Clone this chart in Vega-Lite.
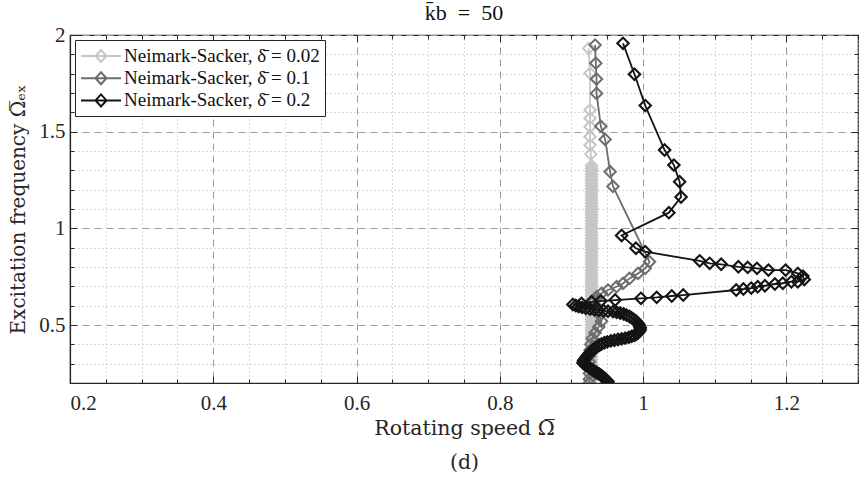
{
  "$schema": "https://vega.github.io/schema/vega-lite/v6.json",
  "width": 788,
  "height": 348,
  "autosize": {"type": "none"},
  "padding": {"left": 70, "top": 35, "right": 2, "bottom": 94},
  "background": "white",
  "title": {"text": "k\u0304b\u2002=\u200250", "fontSize": 22, "font": "Liberation Serif", "fontWeight": "normal", "color": "#111111", "offset": -1, "anchor": "middle"},
  "layer": [
    {
      "data": {"values": [
        {"s":"0.02","o":1,"x":0.928,"y":0.200},{"s":"0.02","o":2,"x":0.928,"y":0.215},{"s":"0.02","o":3,"x":0.928,"y":0.230},{"s":"0.02","o":4,"x":0.928,"y":0.245},{"s":"0.02","o":5,"x":0.928,"y":0.260},{"s":"0.02","o":6,"x":0.928,"y":0.275},{"s":"0.02","o":7,"x":0.928,"y":0.290},{"s":"0.02","o":8,"x":0.928,"y":0.305},{"s":"0.02","o":9,"x":0.928,"y":0.320},{"s":"0.02","o":10,"x":0.928,"y":0.335},
        {"s":"0.02","o":11,"x":0.928,"y":0.350},{"s":"0.02","o":12,"x":0.928,"y":0.365},{"s":"0.02","o":13,"x":0.928,"y":0.380},{"s":"0.02","o":14,"x":0.928,"y":0.395},{"s":"0.02","o":15,"x":0.928,"y":0.410},{"s":"0.02","o":16,"x":0.928,"y":0.425},{"s":"0.02","o":17,"x":0.928,"y":0.440},{"s":"0.02","o":18,"x":0.928,"y":0.455},{"s":"0.02","o":19,"x":0.928,"y":0.470},{"s":"0.02","o":20,"x":0.928,"y":0.485},
        {"s":"0.02","o":21,"x":0.928,"y":0.500},{"s":"0.02","o":22,"x":0.928,"y":0.515},{"s":"0.02","o":23,"x":0.928,"y":0.530},{"s":"0.02","o":24,"x":0.928,"y":0.545},{"s":"0.02","o":25,"x":0.928,"y":0.560},{"s":"0.02","o":26,"x":0.928,"y":0.575},{"s":"0.02","o":27,"x":0.928,"y":0.590},{"s":"0.02","o":28,"x":0.928,"y":0.605},{"s":"0.02","o":29,"x":0.928,"y":0.620},{"s":"0.02","o":30,"x":0.928,"y":0.635},
        {"s":"0.02","o":31,"x":0.928,"y":0.650},{"s":"0.02","o":32,"x":0.928,"y":0.665},{"s":"0.02","o":33,"x":0.928,"y":0.680},{"s":"0.02","o":34,"x":0.928,"y":0.695},{"s":"0.02","o":35,"x":0.928,"y":0.710},{"s":"0.02","o":36,"x":0.928,"y":0.725},{"s":"0.02","o":37,"x":0.928,"y":0.740},{"s":"0.02","o":38,"x":0.928,"y":0.755},{"s":"0.02","o":39,"x":0.928,"y":0.770},{"s":"0.02","o":40,"x":0.928,"y":0.785},
        {"s":"0.02","o":41,"x":0.928,"y":0.800},{"s":"0.02","o":42,"x":0.928,"y":0.815},{"s":"0.02","o":43,"x":0.928,"y":0.830},{"s":"0.02","o":44,"x":0.928,"y":0.845},{"s":"0.02","o":45,"x":0.928,"y":0.860},{"s":"0.02","o":46,"x":0.928,"y":0.875},{"s":"0.02","o":47,"x":0.928,"y":0.890},{"s":"0.02","o":48,"x":0.928,"y":0.905},{"s":"0.02","o":49,"x":0.928,"y":0.920},{"s":"0.02","o":50,"x":0.928,"y":0.935},
        {"s":"0.02","o":51,"x":0.928,"y":0.950},{"s":"0.02","o":52,"x":0.928,"y":0.965},{"s":"0.02","o":53,"x":0.928,"y":0.980},{"s":"0.02","o":54,"x":0.928,"y":0.995},{"s":"0.02","o":55,"x":0.928,"y":1.010},{"s":"0.02","o":56,"x":0.928,"y":1.025},{"s":"0.02","o":57,"x":0.928,"y":1.040},{"s":"0.02","o":58,"x":0.928,"y":1.055},{"s":"0.02","o":59,"x":0.928,"y":1.070},{"s":"0.02","o":60,"x":0.928,"y":1.085},
        {"s":"0.02","o":61,"x":0.928,"y":1.100},{"s":"0.02","o":62,"x":0.928,"y":1.115},{"s":"0.02","o":63,"x":0.928,"y":1.130},{"s":"0.02","o":64,"x":0.928,"y":1.145},{"s":"0.02","o":65,"x":0.928,"y":1.160},{"s":"0.02","o":66,"x":0.928,"y":1.175},{"s":"0.02","o":67,"x":0.928,"y":1.190},{"s":"0.02","o":68,"x":0.928,"y":1.205},{"s":"0.02","o":69,"x":0.928,"y":1.220},{"s":"0.02","o":70,"x":0.928,"y":1.235},
        {"s":"0.02","o":71,"x":0.928,"y":1.250},{"s":"0.02","o":72,"x":0.928,"y":1.265},{"s":"0.02","o":73,"x":0.928,"y":1.280},{"s":"0.02","o":74,"x":0.928,"y":1.295},{"s":"0.02","o":75,"x":0.928,"y":1.310},{"s":"0.02","o":76,"x":0.928,"y":1.325},
        {"s":"0.02","o":77,"x":0.927,"y":1.384},{"s":"0.02","o":78,"x":0.926,"y":1.431},{"s":"0.02","o":79,"x":0.926,"y":1.474},{"s":"0.02","o":80,"x":0.926,"y":1.526},{"s":"0.02","o":81,"x":0.926,"y":1.569},{"s":"0.02","o":82,"x":0.926,"y":1.612},{"s":"0.02","o":83,"x":0.926,"y":1.802},{"s":"0.02","o":84,"x":0.924,"y":1.931},

        {"s":"0.1","o":1,"x":0.933,"y":1.948},{"s":"0.1","o":2,"x":0.934,"y":1.854},{"s":"0.1","o":3,"x":0.935,"y":1.772},{"s":"0.1","o":4,"x":0.935,"y":1.698},{"s":"0.1","o":5,"x":0.941,"y":1.528},{"s":"0.1","o":6,"x":0.947,"y":1.460},{"s":"0.1","o":7,"x":0.954,"y":1.293},{"s":"0.1","o":8,"x":0.958,"y":1.217},
        {"s":"0.1","o":9,"x":1.009,"y":0.827},{"s":"0.1","o":10,"x":1.003,"y":0.793},{"s":"0.1","o":11,"x":0.993,"y":0.767},{"s":"0.1","o":12,"x":0.981,"y":0.741},{"s":"0.1","o":13,"x":0.972,"y":0.715},{"s":"0.1","o":14,"x":0.963,"y":0.698},{"s":"0.1","o":15,"x":0.951,"y":0.681},{"s":"0.1","o":16,"x":0.942,"y":0.664},{"s":"0.1","o":17,"x":0.935,"y":0.646},
        {"s":"0.1","o":18,"x":0.932,"y":0.625},{"s":"0.1","o":19,"x":0.934,"y":0.600},{"s":"0.1","o":20,"x":0.937,"y":0.575},{"s":"0.1","o":21,"x":0.940,"y":0.550},{"s":"0.1","o":22,"x":0.942,"y":0.520},{"s":"0.1","o":23,"x":0.938,"y":0.490},{"s":"0.1","o":24,"x":0.933,"y":0.460},{"s":"0.1","o":25,"x":0.929,"y":0.430},{"s":"0.1","o":26,"x":0.927,"y":0.400},
        {"s":"0.1","o":27,"x":0.926,"y":0.370},{"s":"0.1","o":28,"x":0.925,"y":0.340},{"s":"0.1","o":29,"x":0.925,"y":0.310},{"s":"0.1","o":30,"x":0.925,"y":0.280},{"s":"0.1","o":31,"x":0.925,"y":0.250},{"s":"0.1","o":32,"x":0.925,"y":0.220},{"s":"0.1","o":33,"x":0.925,"y":0.200},

        {"s":"0.2","o":1,"x":0.972,"y":1.957},{"s":"0.2","o":2,"x":0.988,"y":1.797},{"s":"0.2","o":3,"x":1.003,"y":1.635},{"s":"0.2","o":4,"x":1.030,"y":1.405},{"s":"0.2","o":5,"x":1.043,"y":1.327},{"s":"0.2","o":6,"x":1.051,"y":1.241},{"s":"0.2","o":7,"x":1.053,"y":1.162},{"s":"0.2","o":8,"x":1.036,"y":1.081},
        {"s":"0.2","o":9,"x":0.970,"y":0.963},{"s":"0.2","o":10,"x":0.990,"y":0.897},{"s":"0.2","o":11,"x":1.003,"y":0.879},{"s":"0.2","o":12,"x":1.079,"y":0.832},{"s":"0.2","o":13,"x":1.093,"y":0.819},{"s":"0.2","o":14,"x":1.109,"y":0.814},{"s":"0.2","o":15,"x":1.133,"y":0.801},{"s":"0.2","o":16,"x":1.146,"y":0.798},{"s":"0.2","o":17,"x":1.159,"y":0.793},
        {"s":"0.2","o":18,"x":1.175,"y":0.784},{"s":"0.2","o":19,"x":1.199,"y":0.784},{"s":"0.2","o":20,"x":1.216,"y":0.767},{"s":"0.2","o":21,"x":1.223,"y":0.753},{"s":"0.2","o":22,"x":1.225,"y":0.735},{"s":"0.2","o":23,"x":1.216,"y":0.724},{"s":"0.2","o":24,"x":1.207,"y":0.724},{"s":"0.2","o":25,"x":1.195,"y":0.716},
        {"s":"0.2","o":26,"x":1.184,"y":0.712},{"s":"0.2","o":27,"x":1.170,"y":0.703},{"s":"0.2","o":28,"x":1.160,"y":0.698},{"s":"0.2","o":29,"x":1.151,"y":0.691},{"s":"0.2","o":30,"x":1.140,"y":0.686},{"s":"0.2","o":31,"x":1.130,"y":0.681},
        {"s":"0.2","o":32,"x":1.056,"y":0.655},{"s":"0.2","o":33,"x":1.040,"y":0.650},{"s":"0.2","o":34,"x":1.019,"y":0.643},{"s":"0.2","o":35,"x":0.997,"y":0.638},{"s":"0.2","o":36,"x":0.961,"y":0.629},{"s":"0.2","o":37,"x":0.941,"y":0.624},{"s":"0.2","o":38,"x":0.928,"y":0.620},{"s":"0.2","o":39,"x":0.914,"y":0.612},{"s":"0.2","o":40,"x":0.902,"y":0.606},
        {"s":"0.2","o":41,"x":0.906,"y":0.601},{"s":"0.2","o":42,"x":0.910,"y":0.596},{"s":"0.2","o":43,"x":0.915,"y":0.591},{"s":"0.2","o":44,"x":0.920,"y":0.586},{"s":"0.2","o":45,"x":0.926,"y":0.582},{"s":"0.2","o":46,"x":0.932,"y":0.579},{"s":"0.2","o":47,"x":0.938,"y":0.576},{"s":"0.2","o":48,"x":0.945,"y":0.574},{"s":"0.2","o":49,"x":0.951,"y":0.571},{"s":"0.2","o":50,"x":0.958,"y":0.569},
        {"s":"0.2","o":51,"x":0.963,"y":0.566},{"s":"0.2","o":52,"x":0.968,"y":0.562},{"s":"0.2","o":53,"x":0.973,"y":0.557},{"s":"0.2","o":54,"x":0.977,"y":0.551},{"s":"0.2","o":55,"x":0.981,"y":0.544},{"s":"0.2","o":56,"x":0.984,"y":0.537},{"s":"0.2","o":57,"x":0.987,"y":0.529},{"s":"0.2","o":58,"x":0.990,"y":0.521},{"s":"0.2","o":59,"x":0.992,"y":0.512},{"s":"0.2","o":60,"x":0.994,"y":0.504},
        {"s":"0.2","o":61,"x":0.995,"y":0.495},{"s":"0.2","o":62,"x":0.996,"y":0.486},{"s":"0.2","o":63,"x":0.996,"y":0.477},{"s":"0.2","o":64,"x":0.995,"y":0.468},{"s":"0.2","o":65,"x":0.993,"y":0.460},{"s":"0.2","o":66,"x":0.991,"y":0.453},{"s":"0.2","o":67,"x":0.988,"y":0.447},{"s":"0.2","o":68,"x":0.984,"y":0.441},{"s":"0.2","o":69,"x":0.980,"y":0.436},{"s":"0.2","o":70,"x":0.975,"y":0.432},
        {"s":"0.2","o":71,"x":0.970,"y":0.428},{"s":"0.2","o":72,"x":0.965,"y":0.425},{"s":"0.2","o":73,"x":0.960,"y":0.421},{"s":"0.2","o":74,"x":0.955,"y":0.418},{"s":"0.2","o":75,"x":0.950,"y":0.413},{"s":"0.2","o":76,"x":0.946,"y":0.408},{"s":"0.2","o":77,"x":0.942,"y":0.402},{"s":"0.2","o":78,"x":0.939,"y":0.395},{"s":"0.2","o":79,"x":0.936,"y":0.388},{"s":"0.2","o":80,"x":0.933,"y":0.380},
        {"s":"0.2","o":81,"x":0.930,"y":0.372},{"s":"0.2","o":82,"x":0.928,"y":0.363},{"s":"0.2","o":83,"x":0.925,"y":0.354},{"s":"0.2","o":84,"x":0.923,"y":0.345},{"s":"0.2","o":85,"x":0.921,"y":0.336},{"s":"0.2","o":86,"x":0.919,"y":0.326},{"s":"0.2","o":87,"x":0.917,"y":0.316},{"s":"0.2","o":88,"x":0.916,"y":0.305},{"s":"0.2","o":89,"x":0.918,"y":0.297},{"s":"0.2","o":90,"x":0.921,"y":0.290},
        {"s":"0.2","o":91,"x":0.924,"y":0.283},{"s":"0.2","o":92,"x":0.926,"y":0.276},{"s":"0.2","o":93,"x":0.929,"y":0.270},{"s":"0.2","o":94,"x":0.931,"y":0.264},{"s":"0.2","o":95,"x":0.934,"y":0.258},{"s":"0.2","o":96,"x":0.936,"y":0.252},{"s":"0.2","o":97,"x":0.939,"y":0.246},{"s":"0.2","o":98,"x":0.941,"y":0.240},{"s":"0.2","o":99,"x":0.943,"y":0.234},{"s":"0.2","o":100,"x":0.945,"y":0.228},
        {"s":"0.2","o":101,"x":0.947,"y":0.222},{"s":"0.2","o":102,"x":0.948,"y":0.217},{"s":"0.2","o":103,"x":0.950,"y":0.211},{"s":"0.2","o":104,"x":0.951,"y":0.206}
      ]},
      "encoding": {
        "x": {"field": "x", "type": "quantitative",
          "scale": {"domain": [0.2, 1.3], "nice": false, "zero": false},
          "axis": {
            "title": ["Rotating speed Ω\u0305", "(d)"],
            "titleFont": "DejaVu Serif",
            "titleFontSize": 20.5,
            "titleLineHeight": 34,
            "values": [0.2,0.25,0.3,0.35,0.4,0.45,0.5,0.55,0.6,0.65,0.7,0.75,0.8,0.85,0.9,0.95,1.0,1.05,1.1,1.15,1.2,1.25,1.3],
            "format": "~g",
            "labelExpr": "abs(datum.value*5 - round(datum.value*5)) < 0.001 ? datum.label : ''",
            "gridDash": {"condition": {"test": "abs(datum.value*5 - round(datum.value*5)) < 0.001", "value": [7, 5]}, "value": [1, 3]},
            "gridColor": {"condition": {"test": "abs(datum.value*5 - round(datum.value*5)) < 0.001", "value": "#9a9a9a"}, "value": "#b4b4b4"},
            "tickSize": {"condition": {"test": "abs(datum.value*5 - round(datum.value*5)) < 0.001", "value": -7}, "value": -4},
            "labelPadding": 16,
            "titlePadding": 5
          }},
        "y": {"field": "y", "type": "quantitative",
          "scale": {"domain": [0.2, 2.0], "nice": false, "zero": false},
          "axis": {
            "title": "Excitation frequency Ω\u0305ₑₓ",
            "titleFont": "DejaVu Serif",
            "titleFontSize": 20,
            "values": [0.2,0.3,0.4,0.5,0.6,0.7,0.8,0.9,1.0,1.1,1.2,1.3,1.4,1.5,1.6,1.7,1.8,1.9,2.0],
            "format": "~g",
            "labelExpr": "abs(datum.value*2 - round(datum.value*2)) < 0.001 ? datum.label : ''",
            "gridDash": {"condition": {"test": "abs(datum.value*2 - round(datum.value*2)) < 0.001", "value": [7, 5]}, "value": [1, 3]},
            "gridColor": {"condition": {"test": "abs(datum.value*2 - round(datum.value*2)) < 0.001", "value": "#9a9a9a"}, "value": "#b4b4b4"},
            "tickSize": {"condition": {"test": "abs(datum.value*2 - round(datum.value*2)) < 0.001", "value": -7}, "value": -4},
            "labelPadding": 12,
            "titlePadding": 10
          }},
        "color": {"field": "s", "type": "nominal",
          "scale": {"domain": ["0.02", "0.1", "0.2"], "range": ["#c6c6c6", "#6c6c6c", "#141414"]},
          "legend": {
            "title": null,
            "orient": "top-left",
            "offset": 5,
            "labelExpr": "'Neimark-Sacker, δ\u0304 = ' + datum.label",
            "labelFont": "Liberation Serif",
            "labelFontSize": 19,
            "labelLimit": 400,
            "symbolType": "M-1,0L3,0M0.45,0L1,-0.6L1.55,0L1,0.6Z",
            "symbolSize": 400,
            "symbolStrokeWidth": 2,
            "symbolFillColor": "transparent",
            "labelOffset": 22,
            "rowPadding": 1.2,
            "padding": 5,
            "strokeColor": "#262626",
            "fillColor": "white",
            "cornerRadius": 0
          }},
        "order": {"field": "o", "type": "quantitative"}
      },
      "layer": [
        {"transform": [{"filter": "datum.s == '0.02'"}],
         "mark": {"type": "line", "strokeWidth": 1.8, "clip": true,
           "point": {"shape": "diamond", "filled": false, "size": 130, "strokeWidth": 2, "clip": true}}},
        {"transform": [{"filter": "datum.s == '0.1'"}],
         "mark": {"type": "line", "strokeWidth": 1.8, "clip": true,
           "point": {"shape": "diamond", "filled": false, "size": 130, "strokeWidth": 2, "clip": true}}},
        {"transform": [{"filter": "datum.s == '0.2'"}],
         "mark": {"type": "line", "strokeWidth": 1.8, "clip": true,
           "point": {"shape": "diamond", "filled": false, "size": 130, "strokeWidth": 2.1, "clip": true}}}
      ]
    },
    {
      "data": {"values": [{"x": 0.2, "y": 0.2}, {"x": 1.3, "y": 2.0}]},
      "mark": {"type": "point", "opacity": 0},
      "encoding": {
        "x": {"field": "x", "type": "quantitative",
          "scale": {"domain": [0.2, 1.3], "nice": false, "zero": false},
          "axis": {"orient": "top", "title": null, "labels": false, "grid": false, "domain": false,
            "values": [0.2,0.25,0.3,0.35,0.4,0.45,0.5,0.55,0.6,0.65,0.7,0.75,0.8,0.85,0.9,0.95,1.0,1.05,1.1,1.15,1.2,1.25,1.3],
            "tickSize": {"condition": {"test": "abs(datum.value*5 - round(datum.value*5)) < 0.001", "value": -7}, "value": -4}}},
        "y": {"field": "y", "type": "quantitative",
          "scale": {"domain": [0.2, 2.0], "nice": false, "zero": false},
          "axis": {"orient": "right", "title": null, "labels": false, "grid": false, "domain": false,
            "values": [0.2,0.3,0.4,0.5,0.6,0.7,0.8,0.9,1.0,1.1,1.2,1.3,1.4,1.5,1.6,1.7,1.8,1.9,2.0],
            "tickSize": {"condition": {"test": "abs(datum.value*2 - round(datum.value*2)) < 0.001", "value": -7}, "value": -4}}}
      }
    }
  ],
  "resolve": {"axis": {"x": "independent", "y": "independent"}},
  "config": {
    "font": "Liberation Serif",
    "view": {"stroke": "#262626", "strokeWidth": 1.2},
    "axis": {
      "labelFont": "Liberation Serif", "labelFontSize": 21, "labelColor": "#262626",
      "titleFont": "DejaVu Serif", "titleFontSize": 20, "titleFontWeight": "normal", "titleColor": "#262626",
      "domainColor": "#262626", "domainWidth": 1.2,
      "tickColor": "#262626", "tickWidth": 1,
      "grid": true, "gridWidth": 1, "gridOpacity": 1
    },
    "legend": {"labelFont": "Liberation Serif", "labelFontSize": 19, "labelColor": "#111111", "symbolFillColor": "transparent"}
  }
}
